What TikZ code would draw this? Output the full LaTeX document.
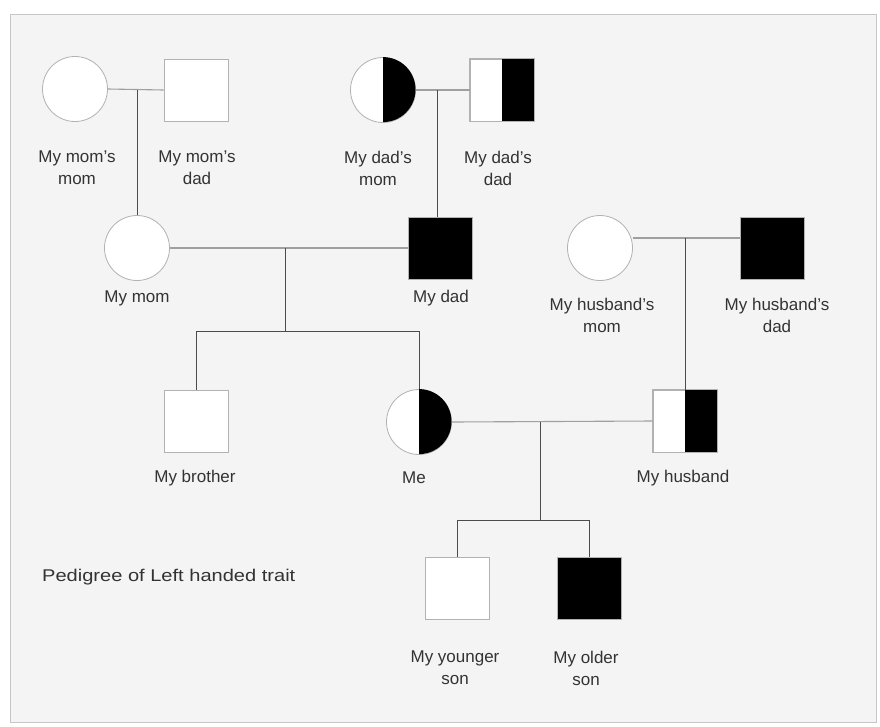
\documentclass[tikz,border=0pt]{standalone}
\usepackage{fontspec}
\setmainfont{Liberation Sans}
\begin{document}
\begin{tikzpicture}[x=1pt,y=-1pt,
  person/.style={draw=gray!60, line width=0.8pt, fill=white, inner sep=0pt},
  fem/.style={person, circle, minimum size=65pt},
  mal/.style={person, rectangle, minimum width=64pt, minimum height=62pt},
  aff/.style={fill=black},
  lbl/.style={font=\fontsize{17}{22}\selectfont, align=center, text=black!80},
  link/.style={draw=gray!75, line width=1.1pt},
  desc/.style={draw=gray!60!black, line width=0.8pt}]
\useasboundingbox (0,0) rectangle (880,726);
\fill[white] (0,0) rectangle (880,726);
\draw[fill=gray!9, draw=gray!45, line width=1pt] (10,14) rectangle (876,722);

% generation I
\node[fem] (mmom) at (75,89) {};
\node[mal] (mdad) at (196,90) {};
\node[fem] (dmom) at (383,90) {};
\node[mal] (ddad) at (502,90) {};
\fill[black] (dmom.north) arc[start angle=90,end angle=-90,radius=32.5pt] -- cycle;
\fill[black] ([xshift=32pt]ddad.north west) rectangle (ddad.south east);
\draw[gray!60, line width=0.8pt] (ddad.north west) rectangle (ddad.south east);

\node[lbl] (lmmom) at (77,168) {My mom's\\mom};
\node[lbl] (lmdad) at (197,168) {My mom's\\dad};
\node[lbl] (ldmom) at (378,168) {My dad's\\mom};
\node[lbl] (lddad) at (498,168) {My dad's\\dad};

% generation II
\node[fem] (mom) at (137,248) {};
\node[mal, aff] (dad) at (440,248) {};
\node[fem] (hmom) at (600,248) {};
\node[mal, aff] (hdad) at (772,248) {};

\node[lbl] (lmom) at (137,298) {My mom};
\node[lbl] (ldad) at (441,298) {My dad};
\node[lbl] (lhmom) at (602,315) {My husband's\\mom};
\node[lbl] (lhdad) at (777,315) {My husband's\\dad};

% generation III
\node[mal] (bro) at (196,421) {};
\node[fem] (me) at (419,422) {};
\node[mal] (hus) at (685,421) {};
\fill[black] (me.north) arc[start angle=90,end angle=-90,radius=32.5pt] -- cycle;
\fill[black] ([xshift=32pt]hus.north west) rectangle (hus.south east);
\draw[gray!60, line width=0.8pt] (hus.north west) rectangle (hus.south east);

\node[lbl] (lbro) at (195,478) {My brother};
\node[lbl] (lme) at (414,478) {Me};
\node[lbl] (lhus) at (683,478) {My husband};

% generation IV
\node[mal] (yson) at (457,588) {};
\node[mal, aff] (oson) at (589,588) {};
\node[lbl] (lyson) at (455,668) {My younger\\son};
\node[lbl] (loson) at (586,668) {My older\\son};

\node[lbl, anchor=west, transform shape, xscale=1.18] (title) at (38,577) {Pedigree of Left handed trait};

% marriages
\draw[link] (mmom.east) -- (mdad.west);
\draw[link] (dmom.east) -- (ddad.west);
\draw[link] (mom.east) -- (mom.east -| dad.west);
\draw[link] (hmom.east |- 0,238) -- (hdad.west |- 0,238);
\draw[link] (me.east) -- (hus.west);

% descent
\coordinate (c1) at (137,90);
\draw[desc] (c1) -- (mom.north);
\coordinate (c2) at (437,90);
\draw[desc] (c2) -- (c2 |- dad.north);
\coordinate (c3) at (685,238);
\draw[desc] (c3) -- (hus.north);
\coordinate (c4) at (285,248);
\coordinate (s4) at (285,331);
\draw[desc] (c4) -- (s4);
\draw[desc] (bro.north |- s4) -- (me.north |- s4);
\draw[desc] (bro.north |- s4) -- (bro.north);
\draw[desc] (me.north |- s4) -- (me.north);
\coordinate (c5) at (540,422);
\coordinate (s5) at (540,520);
\draw[desc] (c5) -- (s5);
\draw[desc] (yson.north |- s5) -- (oson.north |- s5);
\draw[desc] (yson.north |- s5) -- (yson.north);
\draw[desc] (oson.north |- s5) -- (oson.north);
\end{tikzpicture}
\end{document}
